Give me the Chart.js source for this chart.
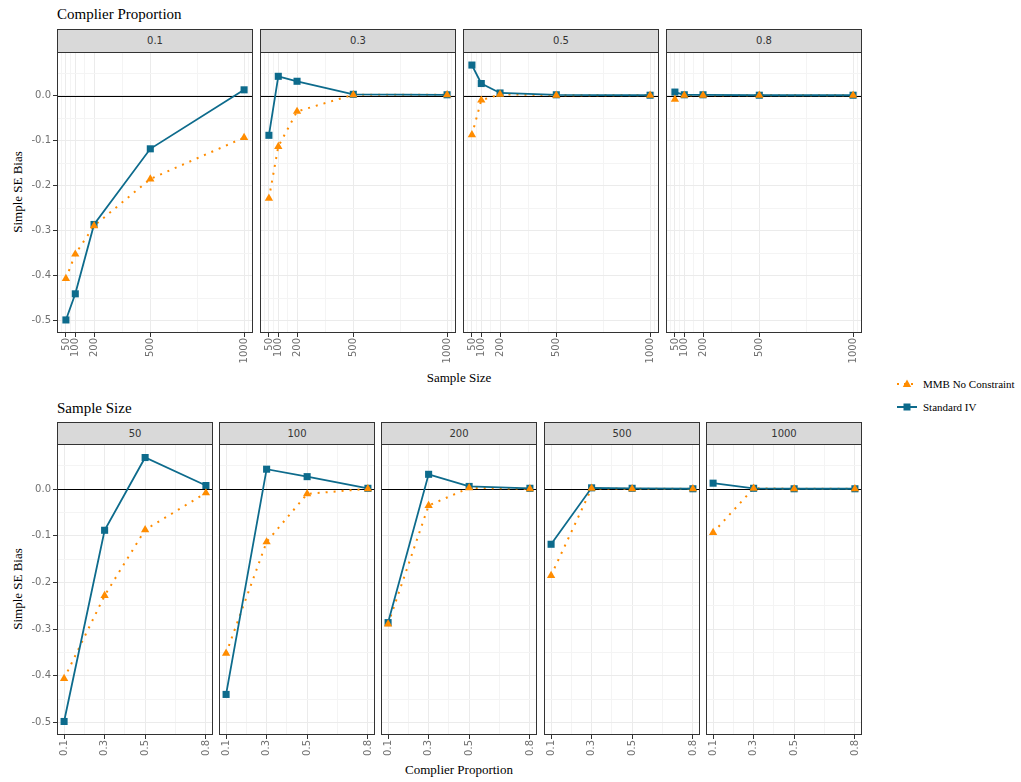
<!DOCTYPE html>
<html>
<head>
<meta charset="utf-8">
<script src="https://cdn.jsdelivr.net/npm/chart.js@4.4.0/dist/chart.umd.min.js"></script>
<style>
  body { margin: 0; background: #fff; width: 1021px; height: 782px; position: relative; overflow: hidden; }
  .txt { position: absolute; white-space: nowrap; font-family: 'Liberation Serif', 'Times New Roman', serif; color: #000; }
  .title { font-size: 15px; line-height: 18px; }
  .axtitle { font-size: 13px; line-height: 16px; }
  .ytitle { font-size: 13px; line-height: 16px; transform: translate(-50%, -50%) rotate(-90deg); }
  .strip { position: absolute; box-sizing: border-box; background: #D9D9D9; border: 1px solid #333;
           font-family: 'DejaVu Sans', sans-serif; font-size: 10px; color: #333; text-align: center; }
  .legend { position: absolute; left: 895px; top: 372px; font-family: 'Liberation Serif', serif; font-size: 11px; }
  .legend div { height: 23px; display: flex; align-items: center; }
  .legend svg { margin-right: 4px; }
  canvas { position: absolute; }
</style>
</head>
<body>
<div class="txt title" style="left:57px; top:5px;">Complier Proportion</div>
<div class="txt title" style="left:57px; top:399px;">Sample Size</div>
<div class="txt axtitle" style="left:459px; top:370px; transform:translateX(-50%);">Sample Size</div>
<div class="txt axtitle" style="left:459px; top:762px; transform:translateX(-50%);">Complier Proportion</div>
<div class="txt ytitle" style="left:18px; top:192px;">Simple SE Bias</div>
<div class="txt ytitle" style="left:18px; top:589px;">Simple SE Bias</div>

<div class="legend">
  <div><svg width="24" height="12"><line x1="2" y1="6" x2="22" y2="6" stroke="#FF8C00" stroke-width="2" stroke-dasharray="2,5"/><polygon points="12,1.5 16.2,9 7.8,9" fill="#FF8C00"/></svg>MMB No Constraint</div>
  <div><svg width="24" height="12"><line x1="2" y1="6" x2="22" y2="6" stroke="#0D6B8C" stroke-width="2"/><rect x="8.5" y="2.5" width="7" height="7" fill="#0D6B8C"/></svg>Standard IV</div>
</div>

<script>
// Facet levels
const sampleSizes = [50, 100, 200, 500, 1000];
const complierProps = [0.1, 0.3, 0.5, 0.8];

// Simple SE bias, Standard IV, one array per complier proportion (over sample sizes)
const ivCp01 = [-0.498, -0.440, -0.286, -0.118, 0.013];
const ivCp03 = [-0.088, 0.043, 0.032, 0.003, 0.002];
const ivCp05 = [0.068, 0.027, 0.006, 0.002, 0.001];
const ivCp08 = [0.008, 0.002, 0.002, 0.001, 0.001];

// Simple SE bias, MMB No Constraint
const mmbCp01 = [-0.406, -0.352, -0.289, -0.185, -0.093];
const mmbCp03 = [-0.228, -0.113, -0.035, 0.002, 0.002];
const mmbCp05 = [-0.087, -0.010, 0.003, 0.001, 0.001];
const mmbCp08 = [-0.008, 0.001, 0.001, 0.001, 0.001];

// Axis ticks
const yTicks = [-0.5, -0.4, -0.3, -0.2, -0.1, 0.0];
const yMinor = [-0.45, -0.35, -0.25, -0.15, -0.05, 0.05];
const yRange = [-0.527, 0.097];
const nTicks = [50, 100, 200, 500, 1000];
const nMinor = [25, 75, 150, 350, 750, 1025];
const nRange = [2.5, 1047.5];
const cpTicks = [0.1, 0.3, 0.5, 0.8];
const cpMinor = [0.2, 0.4, 0.65];
const cpRange = [0.065, 0.835];

const ivByCp = [ivCp01, ivCp03, ivCp05, ivCp08];
const mmbByCp = [mmbCp01, mmbCp03, mmbCp05, mmbCp08];

const BLUE = '#0D6B8C';
const ORANGE = '#FF8C00';
const PAD = 7; // canvas padding, bigger than the point overflow chart.js reserves

const isIn = (arr, v) => arr.some(t => Math.abs(t - v) < 1e-9);
const pts = (xs, ys) => xs.map((x, i) => ({ x: x, y: ys[i] }));

function noPad(s) {
    s.paddingLeft = s.paddingRight = s.paddingTop = s.paddingBottom = 0;
}

// zero line + panel border
const panelDeco = {
    id: 'panelDeco',
    beforeDatasetsDraw(chart) {
        const { ctx, chartArea: a, scales } = chart;
        const py = Math.round(scales.y.getPixelForValue(0)) + 0.5;
        ctx.save();
        ctx.strokeStyle = '#000';
        ctx.lineWidth = 1;
        ctx.beginPath();
        ctx.moveTo(a.left, py);
        ctx.lineTo(a.right, py);
        ctx.stroke();
        ctx.restore();
    },
    afterDraw(chart) {
        const { ctx, chartArea: a } = chart;
        ctx.save();
        ctx.strokeStyle = '#333';
        ctx.lineWidth = 1;
        ctx.strokeRect(a.left + 0.5, a.top + 0.5, a.right - a.left - 1, a.bottom - a.top - 1);
        ctx.restore();
    }
};

function makePanel(p) {
    const yw = p.showY ? 45 : 0;
    const xh = 36;
    const strip = document.createElement('div');
    strip.className = 'strip';
    strip.style.left = p.left + 'px';
    strip.style.top = p.stripTop + 'px';
    strip.style.width = p.width + 'px';
    strip.style.height = (p.top - p.stripTop + 1) + 'px';
    strip.style.lineHeight = (p.top - p.stripTop - 1) + 'px';
    strip.textContent = p.label;
    document.body.appendChild(strip);

    const cv = document.createElement('canvas');
    const cw = yw + p.width + 2 * PAD, ch = p.height + xh + 2 * PAD;
    cv.width = cw; cv.height = ch;
    cv.style.width = cw + 'px'; cv.style.height = ch + 'px';
    cv.style.left = (p.left - PAD - yw) + 'px';
    cv.style.top = (p.top - PAD) + 'px';
    document.body.appendChild(cv);

    const gridOpts = (major) => ({
        color: c => isIn(major, c.tick.value) ? '#EBEBEB' : '#F4F4F4',
        lineWidth: 1,
        tickLength: 4,
        tickWidth: 1,
        tickColor: c => isIn(major, c.tick.value) ? '#333' : 'rgba(0,0,0,0)'
    });

    new Chart(cv, {
        type: 'line',
        data: {
            datasets: [
                { data: pts(p.xs, p.mmb), showLine: false, pointStyle: 'triangle', pointRadius: 4.8,
                  pointBackgroundColor: ORANGE, pointBorderWidth: 0 },
                { data: pts(p.xs, p.iv), showLine: false, pointStyle: 'rect', pointRadius: 5,
                  pointBackgroundColor: BLUE, pointBorderWidth: 0 },
                { data: pts(p.xs, p.iv), borderColor: BLUE, borderWidth: 1.8, pointRadius: 0 },
                { data: pts(p.xs, p.mmb), borderColor: ORANGE, borderWidth: 2, borderDash: [2, 6], pointRadius: 0 }
            ]
        },
        options: {
            responsive: false,
            animation: false,
            layout: { padding: PAD },
            elements: { line: { tension: 0 } },
            plugins: { legend: { display: false }, tooltip: { enabled: false } },
            scales: {
                x: {
                    type: 'linear', min: p.xRange[0], max: p.xRange[1],
                    afterBuildTicks: s => { s.ticks = [...p.xMinor, ...p.xTicks].sort((a, b) => a - b).map(v => ({ value: v })); },
                    afterFit: s => { s.height = xh; noPad(s); },
                    border: { display: false },
                    grid: gridOpts(p.xTicks),
                    ticks: {
                        autoSkip: false, minRotation: 90, maxRotation: 90, padding: 1,
                        color: '#707070', font: { family: 'DejaVu Sans', size: 10 },
                        callback: v => isIn(p.xTicks, v) ? String(v) : ''
                    }
                },
                y: {
                    type: 'linear', min: yRange[0], max: yRange[1],
                    afterBuildTicks: s => { s.ticks = [...yMinor, ...yTicks].sort((a, b) => a - b).map(v => ({ value: v })); },
                    afterFit: s => { s.width = yw; noPad(s); },
                    border: { display: false },
                    grid: Object.assign(gridOpts(yTicks), { drawTicks: p.showY }),
                    ticks: {
                        display: p.showY, autoSkip: false, padding: 2,
                        color: '#707070', font: { family: 'DejaVu Sans', size: 10 },
                        callback: v => isIn(yTicks, v) ? v.toFixed(1) : ''
                    }
                }
            }
        },
        plugins: [panelDeco]
    });
}

// Top row: facets by complier proportion, x = sample size
const topLefts = [57, 260, 463, 666];
complierProps.forEach((cp, i) => {
    makePanel({
        label: String(cp), left: topLefts[i], width: 196, top: 52, height: 281, stripTop: 29,
        xs: sampleSizes, iv: ivByCp[i], mmb: mmbByCp[i],
        xTicks: nTicks, xMinor: nMinor, xRange: nRange, showY: i === 0
    });
});

// Bottom row: facets by sample size, x = complier proportion
const botLefts = [57, 219, 381, 544, 706];
sampleSizes.forEach((n, j) => {
    makePanel({
        label: String(n), left: botLefts[j], width: 156, top: 444, height: 291, stripTop: 422,
        xs: complierProps, iv: ivByCp.map(a => a[j]), mmb: mmbByCp.map(a => a[j]),
        xTicks: cpTicks, xMinor: cpMinor, xRange: cpRange, showY: j === 0
    });
});
</script>
</body>
</html>
